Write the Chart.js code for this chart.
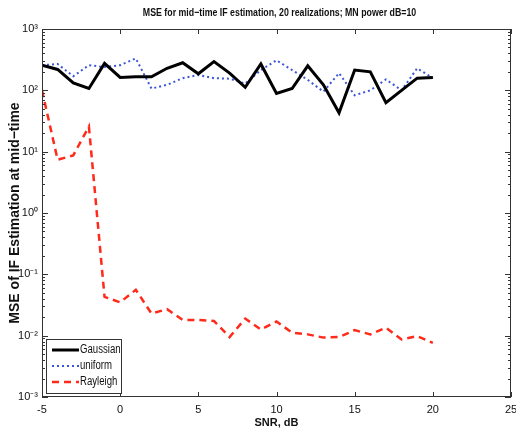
<!DOCTYPE html>
<html>
<head>
<meta charset="utf-8">
<script src="https://cdn.jsdelivr.net/npm/chart.js@4/dist/chart.umd.min.js"></script>
<style>
html,body{margin:0;padding:0;background:#fff;}
#wrap{width:516px;height:435px;position:relative;}
</style>
</head>
<body>
<div id="wrap"><canvas id="c" width="516" height="435"></canvas></div>
<script>
const snr = [-5,-4,-3,-2,-1,0,1,2,3,4,5,6,7,8,9,10,11,12,13,14,15,16,17,18,19,20];
const gaussian = [257,219,132,107,275,162,166,166,229,282,186,295,191,112,269,89,107,251,123,43,214,200,63,100,158,162];
const uniform = [257,269,170,257,240,257,331,107,123,158,178,158,155,129,214,309,214,148,95,191,83,100,151,100,229,158];
const rayleigh = [100,7.4,8.7,25.7,0.043,0.035,0.056,0.023,0.027,0.018,0.018,0.0174,0.0095,0.019,0.0126,0.017,0.0112,0.0105,0.0093,0.0095,0.0123,0.0105,0.0135,0.0087,0.0098,0.0076];
const seriesNames = ['Gaussian','uniform','Rayleigh'];
const xTicks = [-5,0,5,10,15,20,25];
const yTickLabels = {'1000':'10³','100':'10²','10':'10¹','1':'10⁰','0.1':'10⁻¹','0.01':'10⁻²','0.001':'10⁻³'};
const titleText = 'MSE for mid\u2212time IF estimation, 20 realizations; MN power dB=10';
const xTitle = 'SNR, dB';
const yTitle = 'MSE of IF Estimation at mid\u2212time';

const FONT = "'Liberation Sans',Arial,sans-serif";
const toPts = arr => arr.map((v,i)=>({x:snr[i], y:v}));

function narrowText(ctx, text, x, y, sx){
  ctx.save();
  ctx.translate(x,y);
  ctx.scale(sx,1);
  ctx.fillText(text,0,0);
  ctx.restore();
}

const decor = {
  id:'decor',
  afterDraw(chart){
    const {ctx, chartArea:a, scales:{x,y}} = chart;
    ctx.save();
    // title
    ctx.fillStyle='#111';
    ctx.font = "bold 11px " + FONT;
    ctx.textAlign='center'; ctx.textBaseline='middle';
    narrowText(ctx, titleText, (a.left+a.right)/2 + 3, 13, 0.8);
    // box
    ctx.strokeStyle='#333'; ctx.lineWidth=1;
    ctx.strokeRect(Math.round(a.left)+0.5, Math.round(a.top)+0.5, Math.round(a.right-a.left)-1, Math.round(a.bottom-a.top)-1);
    // x ticks
    ctx.beginPath();
    xTicks.forEach(v=>{
      const px = Math.round(x.getPixelForValue(v))+0.5;
      ctx.moveTo(px,a.bottom); ctx.lineTo(px,a.bottom-5);
      ctx.moveTo(px,a.top); ctx.lineTo(px,a.top+5);
    });
    // y ticks
    for(let e=-3;e<=3;e++){
      for(let m=1;m<=9;m++){
        const v = m*Math.pow(10,e);
        if(v>1000.0001) break;
        const py = Math.round(y.getPixelForValue(v))+0.5;
        const len = m===1?6:3;
        ctx.moveTo(a.left,py); ctx.lineTo(a.left+len,py);
        ctx.moveTo(a.right,py); ctx.lineTo(a.right-len,py);
      }
    }
    ctx.stroke();
    // legend
    const lx=46, ly=339, lw=75, lh=54;
    ctx.fillStyle='#fff';
    ctx.fillRect(lx,ly,lw,lh);
    ctx.strokeStyle='#333'; ctx.lineWidth=1;
    ctx.strokeRect(lx+0.5,ly+0.5,lw,lh);
    ctx.font = "12px " + FONT;
    ctx.textAlign='left'; ctx.textBaseline='middle';
    chart.data.datasets.forEach((ds,i)=>{
      const yy = ly+11+i*16;
      ctx.save();
      ctx.strokeStyle=ds.borderColor; ctx.lineWidth=ds.borderWidth;
      ctx.setLineDash(ds.borderDash||[]);
      ctx.beginPath(); ctx.moveTo(lx+6,yy); ctx.lineTo(lx+33,yy); ctx.stroke();
      ctx.restore();
      ctx.fillStyle='#111';
      narrowText(ctx, ds.label, lx+34, yy, 0.8);
    });
    ctx.restore();
  }
};

new Chart(document.getElementById('c'),{
  type:'line',
  data:{datasets:[
    {label:seriesNames[0], data:toPts(gaussian), borderColor:'#000', borderWidth:3, pointRadius:0, fill:false, tension:0},
    {label:seriesNames[1], data:toPts(uniform), borderColor:'#3a55d8', borderWidth:2, borderDash:[2,3], pointRadius:0, fill:false, tension:0},
    {label:seriesNames[2], data:toPts(rayleigh), borderColor:'#ff2a1a', borderWidth:2.5, borderDash:[7,5], pointRadius:0, fill:false, tension:0}
  ]},
  options:{
    responsive:false, animation:false,
    layout:{padding:{top:29,right:0,left:0,bottom:0}},
    plugins:{legend:{display:false}, title:{display:false}, tooltip:{enabled:false}},
    scales:{
      x:{type:'linear', min:-5, max:25,
        afterFit:s=>{s.height=38; s.paddingRight=5; s.paddingLeft=0;},
        afterBuildTicks:s=>{s.ticks = xTicks.map(v=>({value:v}));},
        grid:{display:false, drawTicks:false},
        border:{display:false},
        ticks:{color:'#111', padding:6, font:{family:FONT, size:11}, maxRotation:0},
        title:{display:true, text:xTitle, color:'#111', font:{family:FONT, size:11, weight:'bold'}, padding:{top:0,bottom:5}}
      },
      y:{type:'logarithmic', min:0.001, max:1000,
        afterFit:s=>{s.width=42; s.paddingTop=0; s.paddingBottom=0;},
        afterBuildTicks:s=>{s.ticks = Object.keys(yTickLabels).map(k=>({value:parseFloat(k)}));},
        grid:{display:false, drawTicks:false},
        border:{display:false},
        ticks:{color:'#111', padding:4, font:{family:FONT, size:11}, callback:(v)=>{
          const k = String(+v.toPrecision(3)); return yTickLabels[k]||''; }},
        title:{display:true, text:yTitle, color:'#111', font:{family:FONT, size:14, weight:'bold'}, padding:{top:7,bottom:0}}
      }
    }
  },
  plugins:[decor]
});
</script>
</body>
</html>
